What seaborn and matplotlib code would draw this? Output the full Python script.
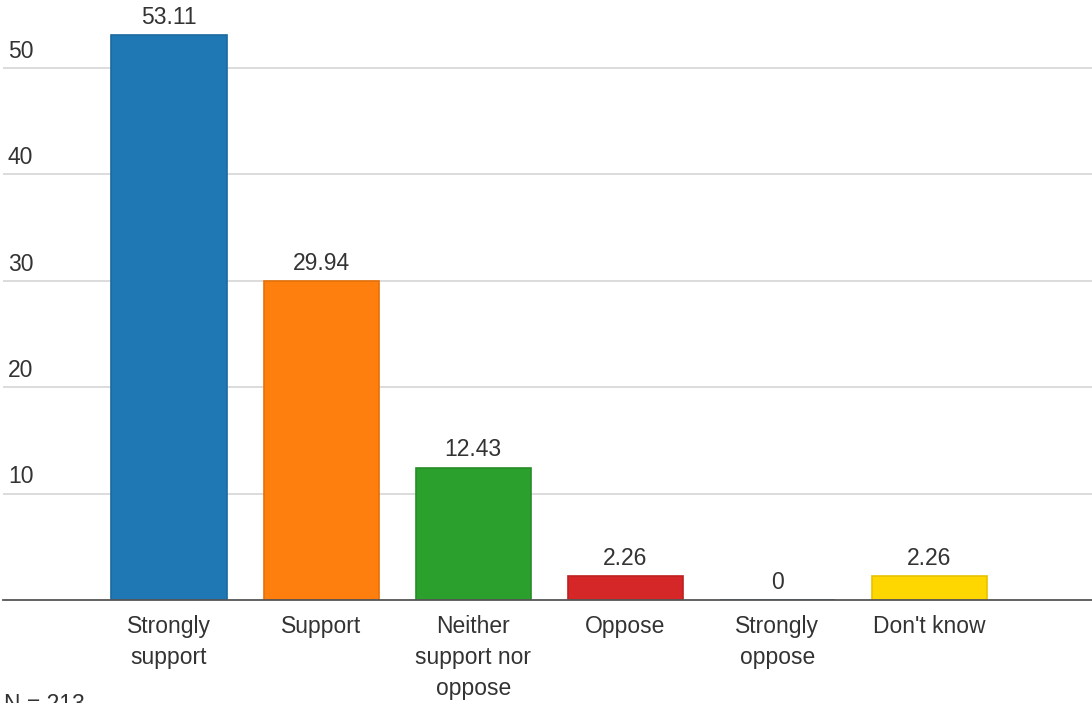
import matplotlib
matplotlib.use("Agg")
import matplotlib.pyplot as plt
import seaborn as sns
import pandas as pd

categories = ["Strongly\nsupport", "Support", "Neither\nsupport nor\noppose",
              "Oppose", "Strongly\noppose", "Don't know"]
values = [53.11, 29.94, 12.43, 2.26, 0, 2.26]
value_labels = ["53.11", "29.94", "12.43", "2.26", "0", "2.26"]
colors = ["#1f77b4", "#ff7f0e", "#2ca02c", "#d62728", "#1f77b4", "#ffd700"]
edges = ["#1a6aa0", "#e57009", "#268c26", "#c02020", "#1a6aa0", "#e6c200"]
yticks = [10, 20, 30, 40, 50]
note = "N = 213"

sns.set_theme(style="white")
plt.rcParams['font.family'] = ['Liberation Sans', 'DejaVu Sans']
text_col = "#333333"
fs = 16.5

df = pd.DataFrame({"cat": categories, "val": values})

fig = plt.figure(figsize=(10.92, 7.03), dpi=100)
ax = fig.add_axes([0.003, 0.1465, 0.997, 0.8535])

sns.barplot(data=df, x="cat", y="val", hue="cat", palette=colors, legend=False,
            width=0.757, saturation=1, ax=ax, zorder=3)
for patch, ec in zip(ax.patches, edges):
    patch.set_edgecolor(ec)
    patch.set_linewidth(1.2)

ax.set_xlim(-1.09, 6.07)
ax.set_ylim(0, 56.4)
ax.set_xlabel("")
ax.set_ylabel("")

# gridlines + labels sitting above each line
ax.set_yticks(yticks)
ax.set_yticklabels([])
ax.tick_params(axis="y", length=0)
ax.yaxis.grid(True, color="#d9d9d9", linewidth=1.3, zorder=0)
for t in yticks:
    ax.text(-1.06, t + 0.5, str(t), fontsize=fs, color=text_col,
            ha="left", va="bottom")

for sp in ["top", "right", "left"]:
    ax.spines[sp].set_visible(False)
ax.spines["bottom"].set_color("#555555")
ax.spines["bottom"].set_linewidth(1.3)
ax.spines["bottom"].set_zorder(5)

ax.tick_params(axis="x", length=0, pad=11)
ax.set_xticks(range(len(categories)))
ax.set_xticklabels(categories, fontsize=fs, color=text_col, linespacing=1.45,
                   va="top")

for i, (v, lab) in enumerate(zip(values, value_labels)):
    ax.text(i, v + 0.6, lab, ha="center", va="bottom", fontsize=fs,
            color=text_col)

fig.text(0.004, -0.018, note, fontsize=fs, color=text_col, ha="left",
         va="bottom")

fig.savefig("out.png", dpi=100)
